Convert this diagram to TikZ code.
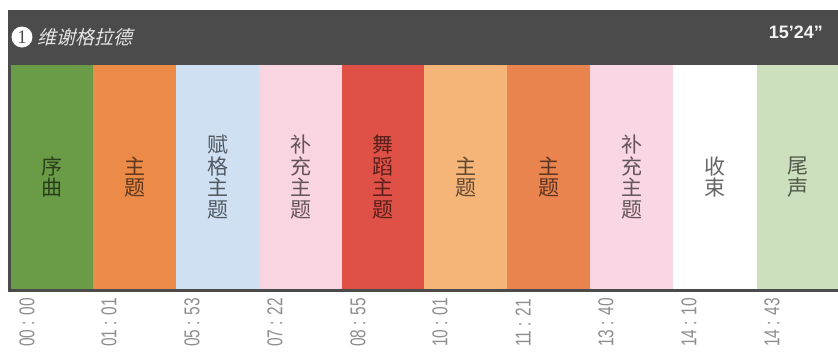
\documentclass[tikz,border=0pt]{standalone}
\usepackage{fontspec}
\setmainfont{Liberation Sans}
\newfontfamily\cjk{Noto Sans CJK SC}
\newfontfamily\cjkit{Noto Sans CJK SC}[FakeSlant=0.25]
\newfontfamily\timefont{Liberation Sans}[FakeStretch=0.72]
\newfontfamily\numserif{Liberation Serif}
\definecolor{hdr}{HTML}{4B4B4B}
\definecolor{cgreen}{HTML}{6A9B46}
\definecolor{corange}{HTML}{EC8A48}
\definecolor{cblue}{HTML}{CFE0F3}
\definecolor{cpink}{HTML}{F9D4E1}
\definecolor{cred}{HTML}{DF5146}
\definecolor{clorange}{HTML}{F5B578}
\definecolor{corange2}{HTML}{E9844F}
\definecolor{cpink2}{HTML}{F9D6E3}
\definecolor{clgreen}{HTML}{CDE0BD}
\definecolor{timegray}{HTML}{8E8E8E}
\begin{document}
\begin{tikzpicture}[x=1pt,y=-1pt,
  band/.style={anchor=north west, minimum height=224pt, inner sep=0pt, outer sep=0pt,
    align=center, text=black, text opacity=0.6,
    font=\cjk\fontsize{21}{21.5}\selectfont},
  timelbl/.style={rotate=90, anchor=west, inner sep=0pt, text=timegray,
    font=\timefont\fontsize{21.5}{21.5}\selectfont}]
\useasboundingbox (0,0) rectangle (838,354);
\fill[hdr] (8,10) rectangle (838,292);
\node[band, minimum width=82pt, fill=cgreen]   (b1)  at (11,65)  {序\\曲};
\node[band, minimum width=83pt, fill=corange]  (b2)  at (93,65)  {主\\题};
\node[band, minimum width=83pt, fill=cblue]    (b3)  at (176,65) {赋\\格\\主\\题};
\node[band, minimum width=83pt, fill=cpink]    (b4)  at (259,65) {补\\充\\主\\题};
\node[band, minimum width=82pt, fill=cred]     (b5)  at (342,65) {舞\\蹈\\主\\题};
\node[band, minimum width=83pt, fill=clorange] (b6)  at (424,65) {主\\题};
\node[band, minimum width=83pt, fill=corange2] (b7)  at (507,65) {主\\题};
\node[band, minimum width=83pt, fill=cpink2]   (b8)  at (590,65) {补\\充\\主\\题};
\node[band, minimum width=84pt, fill=white]    (b9)  at (673,65) {收\\束};
\node[band, minimum width=81pt, fill=clgreen]  (b10) at (757,65) {尾\\声};
\node[timelbl] (t1)  at (27,347)  {00 : 00};
\node[timelbl] (t2)  at (109,347) {01 : 01};
\node[timelbl] (t3)  at (192,347) {05 : 53};
\node[timelbl] (t4)  at (275,347) {07 : 22};
\node[timelbl] (t5)  at (358,347) {08 : 55};
\node[timelbl] (t6)  at (440,347) {10 : 01};
\node[timelbl] (t7)  at (523,347) {11 : 21};
\node[timelbl] (t8)  at (606,347) {13 : 40};
\node[timelbl] (t9)  at (689,347) {14 : 10};
\node[timelbl] (t10) at (772,347) {14 : 43};
\node[circle, fill=white, minimum size=21pt, inner sep=0pt, text=hdr,
  font=\numserif\fontsize{19}{19}\selectfont] (num) at (22,37) {1};
\node[anchor=west, inner sep=0pt, text=white!85!hdr,
  font=\cjkit\fontsize{19}{19}\selectfont] (title) at (37,37) {维谢格拉德};
\node[anchor=base east, inner sep=0pt, text=white!92!hdr,
  font=\bfseries\fontsize{18}{18}\selectfont] (dur) at (823,38) {15’24”};
\end{tikzpicture}
\end{document}
